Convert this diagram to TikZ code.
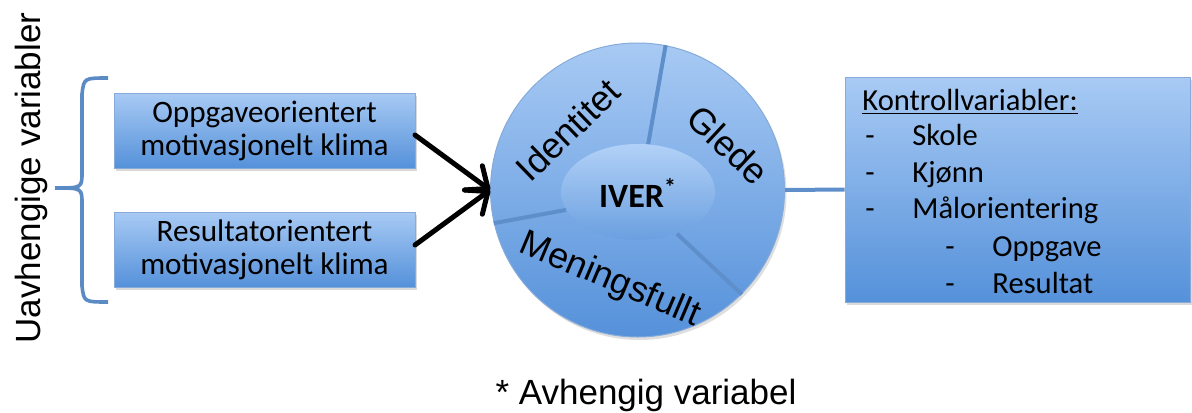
\documentclass[tikz,border=0pt]{standalone}
\usepackage{fontspec}
\setmainfont{Liberation Sans}
\newfontfamily\calibri{Carlito}
\usetikzlibrary{arrows.meta,shadows,shapes.geometric}
\definecolor{boxtop}{HTML}{A8CAF4}
\definecolor{boxbot}{HTML}{5591DA}
\definecolor{boxline}{HTML}{86ABDB}
\definecolor{divline}{HTML}{5E8FCB}
\definecolor{bracecol}{HTML}{5B8BC5}
\definecolor{elltop}{HTML}{B2D1F7}
\definecolor{ellbot}{HTML}{6A9FE0}
\begin{document}
\begin{tikzpicture}[x=0.5pt,y=-0.5pt,
  bluebox/.style={rectangle, draw=boxline, line width=0.5pt, top color=boxtop, bottom color=boxbot,
     inner sep=0pt, drop shadow={opacity=0.3, shadow xshift=1.2pt, shadow yshift=-1.5pt}},
  boxtext/.style={font=\calibri\fontsize{15.6}{16.8}\selectfont, align=center},
  ctext/.style={font=\calibri\fontsize{15.3}{18}\selectfont, anchor=base west, inner sep=0pt},
  arial/.style={font=\fontsize{17.5}{21}\selectfont, inner sep=0pt},
  segtext/.style={font=\fontsize{18}{21}\selectfont, inner sep=0pt},
  arr/.style={line width=2.5pt, line cap=round, -{Straight Barb[length=9pt,width=15pt,round]}},
  divider/.style={draw=divline, line width=2pt},
  bracestyle/.style={draw=bracecol, line width=1.8pt}
]
\useasboundingbox (0,0) rectangle (1192,412);

% vertical label
\node[arial, rotate=90, anchor=base] (uv) at (40,178) {Uavhengige variabler};

% brace
\coordinate (brtop) at (108,78);
\coordinate (brtip) at (55,188);
\coordinate (brbot) at (108,302);
\draw[bracestyle] (brtop) .. controls (84,78) .. (82,94) -- (82,172) .. controls (82,188) .. (brtip);
\draw[bracestyle] (brtip) .. controls (82,188) .. (82,204) -- (82,286) .. controls (84,302) .. (brbot);

% left boxes
\node[bluebox, minimum width=150.5pt, minimum height=37.5pt] (b1) at (264.5,130.5) {};
\node[boxtext] (t1) at (264.5,131) {Oppgaveorientert\\motivasjonelt klima};
\node[bluebox, minimum width=150.5pt, minimum height=37.5pt] (b2) at (264.5,249.5) {};
\node[boxtext] (t2) at (264.5,250) {Resultatorientert\\motivasjonelt klima};

% circle
\node[circle, minimum size=147pt, inner sep=0pt, draw=boxline, line width=0.5pt,
      top color=boxtop, bottom color=boxbot,
      drop shadow={opacity=0.25, shadow xshift=1pt, shadow yshift=-1.5pt}] (c) at (637.5,190) {};
\node[ellipse, minimum width=77pt, minimum height=48pt, inner sep=0pt,
      top color=elltop, bottom color=ellbot] (e) at (638,192) {};
\node[font=\calibri\bfseries\fontsize{17}{20}\selectfont, inner sep=0pt] (iver) at (638,193) {IVER\textsuperscript{*}};

% dividers
\draw[divider] (e.78) -- (c.79);
\draw[divider] (e.194) -- (c.193);
\draw[divider] (e.313) -- (c.315);

% segment labels
\node[segtext, rotate=44] (id) at (568,130) {Identitet};
\node[segtext, rotate=-43] (gl) at (728,145) {Glede};
\node[segtext, rotate=-23, anchor=base] (me) at (606,289) {Meningsfullt};

% arrows
\draw[arr] (415,135) -- (c.west);
\draw[arr] (415,245) -- (c.west);

% right box
\node[bluebox, minimum width=172.5pt, minimum height=112.5pt] (rb) at (1017.5,189.5) {};
\draw[divider] (c.east) -- (rb.west);

\node[ctext] (k0) at (862,110) {\underline{Kontrollvariabler:}};
\node[ctext] (k1) at (865,145) {\makebox[23.5pt][l]{-}Skole};
\node[ctext] (k2) at (865,182) {\makebox[23.5pt][l]{-}Kjønn};
\node[ctext] (k3) at (865,218) {\makebox[23.5pt][l]{-}Målorientering};
\node[ctext] (k4) at (945,256) {\makebox[23.5pt][l]{-}Oppgave};
\node[ctext] (k5) at (945,293) {\makebox[23.5pt][l]{-}Resultat};

% footnote
\node[arial, anchor=base] (fn) at (646,404) {* Avhengig variabel};
\end{tikzpicture}
\end{document}
